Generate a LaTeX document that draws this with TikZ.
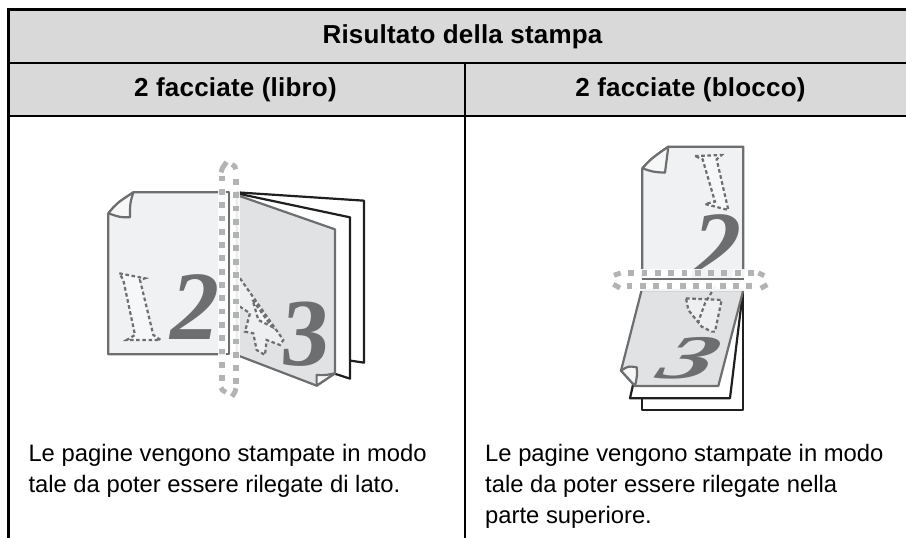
\documentclass[tikz,border=0pt]{standalone}
\usepackage{fontspec}
\setmainfont{Liberation Sans}
\usetikzlibrary{calc}
\definecolor{hdr}{HTML}{D9D9D9}
\definecolor{pg}{HTML}{6D6E70}
\definecolor{lite}{HTML}{F0F1F3}
\definecolor{midg}{HTML}{E1E2E4}
\definecolor{curlc}{HTML}{F7F7F7}
\definecolor{markc}{HTML}{B2B3B5}
\tikzset{x=1pt,y=-1pt,
 rule/.style={line width=2.6pt,black},
 thin rule/.style={line width=1.9pt,black},
 hd/.style={font=\bfseries\fontsize{26}{26}\selectfont\addfontfeature{LetterSpace=0.8},anchor=base,inner sep=0},
 body/.style={font=\fontsize{23.8}{31}\selectfont,anchor=north west,align=left,inner sep=0},
 page/.style={draw=pg,line width=2.2pt,line join=round},
 back/.style={draw=black!88,line width=2.2pt,fill=white,line join=round},
 dots/.style={draw=markc,line width=5.8pt,dash pattern=on 5.8pt off 7.5pt},
 dotend/.style={draw=markc,line width=5pt},
 ghost/.style={draw=pg,line width=2.2pt,dash pattern=on 3.6pt off 2.6pt,fill=white,fill opacity=.45},
 big/.style={text=pg,inner sep=0},
}
\begin{document}
\begin{tikzpicture}
\useasboundingbox (0,0) rectangle (906,538);
\fill[white] (0,0) rectangle (906,538);
\fill[hdr] (8.7,9.5) rectangle (906,116);
\coordinate (tl) at (7.4,9.5); \coordinate (tr) at (906,9.5);
\coordinate (ml) at (8.7,62.7); \coordinate (mr) at (906,62.7);
\coordinate (hl) at (8.7,116); \coordinate (hr) at (906,116);
\coordinate (bl) at (8.7,538); \coordinate (cm) at (465,62.7); \coordinate (cb) at (465,538);
\draw[rule] (tl) -- (tr); \draw[thin rule] (ml) -- (mr); \draw[thin rule] (hl) -- (hr);
\draw[rule] (8.7,9.5) -- (bl); \draw[thin rule] (cm) -- (cb);
\node[hd] (t1) at (462.5,43) {Risultato della stampa};
\node[hd] (t2) at (235.5,96.7) {2 facciate (libro)};
\node[hd] (t3) at (690.5,96.7) {2 facciate (blocco)};
\node[body] (b1) at (28.3,444.3) {Le pagine vengono stampate in modo\\tale da poter essere rilegate di lato.};
\node[body] (b2) at (485,444.3) {Le pagine vengono stampate in modo\\tale da poter essere rilegate nella\\parte superiore.};

% left illustration
\begin{scope}[shift={(90,140)},x=0.3333pt,y=-0.3333pt]
 \draw[back] (440,157) -- (822,182) -- (822,668) -- (700,650) -- cycle;
 \draw[back] (440,160) -- (780,232) -- (780,716) -- (700,690) -- cycle;
 \draw[page,fill=midg] (440,165) -- (735,268) -- (735,700) -- (680,737) -- (440,645) -- cycle;
 \draw[page,fill=curlc] (735,700) .. controls (705,706) .. (680,705) .. controls (678,720) .. (680,737) -- cycle;
 \draw[page,fill=lite] (130,157) -- (418,157) -- (418,643) -- (55,643) -- (55,220) .. controls (80,190) .. (130,157);
 \draw[page,fill=curlc] (55,220) .. controls (80,190) .. (130,157) .. controls (120,190) .. (120,232) .. controls (90,232) .. (55,220);
 \node[big,font=\fontspec{Liberation Serif}\itshape\bfseries\fontsize{98}{98}\selectfont] (two) at (316,500) {2};
 \node[big,font=\fontspec{Liberation Serif}\bfseries\fontsize{96}{96}\selectfont,xslant=0.08] (three) at (648,582) {3};
 \draw[ghost] (88,400) -- (165,415) -- (150,420) -- (190,585) -- (212,600) -- (110,600) -- (135,585) -- (100,420) -- cycle;
 \draw[ghost] (450,415) -- (580,600) -- (570,615) -- (530,600) -- (525,645) -- (500,630) -- (490,580) -- (465,575) -- (480,520) -- (450,500);
 \draw[ghost] (488,480) -- (545,560) -- (505,540) -- cycle;
 \fill[white,opacity=.88] (385,145) rectangle (450,655);
 \draw[page] (408,157) -- (418,157) -- (418,643) -- (408,643);
 \draw[dots] (397,107) -- (397,735);
 \draw[dots] (437,117) -- (437,735);
 \draw[dotend] (393,97) .. controls (396,85) .. (410,66);
 \draw[dotend] (437,88) .. controls (436,80) .. (426,73);
 \draw[dotend] (393,743) .. controls (396,750) .. (408,757);
 \draw[dotend] (438,745) .. controls (436,755) .. (426,770);
\end{scope}

% right illustration
\begin{scope}[shift={(590,130)},x=0.3333pt,y=-0.3333pt]
 \draw[back] (157,480) -- (460,480) -- (460,840) -- (157,840) -- cycle;
 \draw[back] (180,480) -- (458,490) -- (420,805) -- (120,805) -- (130,760) -- cycle;
 \draw[page,fill=midg] (155,480) -- (460,480) -- (385,768) -- (135,768) -- (93,722) -- cycle;
 \draw[page,fill=curlc] (93,722) .. controls (115,708) .. (140,712) .. controls (142,735) .. (135,768) -- cycle;
 \draw[page,fill=lite] (235,50) -- (460,50) -- (460,447) -- (157,447) -- (157,115) .. controls (185,85) .. (235,50);
 \draw[page,fill=curlc] (157,115) .. controls (185,85) .. (235,50) .. controls (228,90) .. (225,128) .. controls (190,126) .. (157,115);
 \node[big,font=\fontspec{Liberation Serif}\itshape\bfseries\fontsize{98}{98}\selectfont] (two2) at (380,352) {2};
 \node[big,font=\fontspec{Liberation Serif}\itshape\bfseries\fontsize{62}{62}\selectfont,xscale=1.75,xslant=0.25] (three2) at (300,685) {3};
 \draw[ghost] (315,78) -- (395,75) -- (380,88) -- (415,240) -- (345,222) -- (375,215) -- (338,88) -- cycle;
 \draw[ghost] (288,505) -- (395,510) -- (375,605) -- (365,605) -- (335,590) -- (295,540) -- cycle;
 \draw[ghost] (375,470) -- (345,520) -- (325,575);
 \fill[white,opacity=.92] (150,418) rectangle (468,482);
 \draw[page,line width=2.6pt] (155,447) -- (462,447);
 \draw[dots] (115,430) -- (500,430);
 \draw[dots] (110,468) -- (490,468);
 \draw[dotend] (72,436) -- (92,429);
 \draw[dotend] (505,429) .. controls (515,431) .. (523,437);
 \draw[dotend] (70,463) .. controls (78,470) .. (90,474);
 \draw[dotend] (512,475) .. controls (522,472) .. (532,464);
\end{scope}
\end{tikzpicture}
\end{document}
